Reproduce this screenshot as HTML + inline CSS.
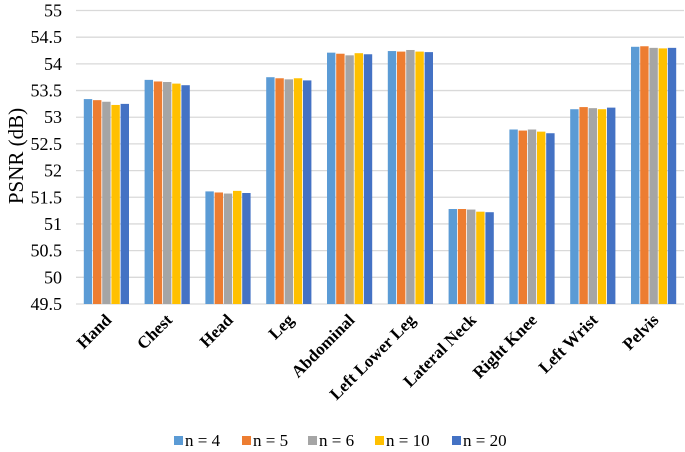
<!DOCTYPE html>
<html><head><meta charset="utf-8"><style>
html,body{margin:0;padding:0;background:#fff;width:685px;height:452px;overflow:hidden}
svg, svg text{font-family:"Liberation Serif","DejaVu Serif","Times New Roman",Times,serif !important;fill:#000}
</style></head><body>
<svg id="chart" width="685" height="452" viewBox="0 0 685 452" xmlns="http://www.w3.org/2000/svg">
<g id="grid"></g>
<g id="yticks"></g>
<g id="bars"></g>
<g id="xlabels"></g>
<text transform="translate(23,156) rotate(-90)" text-anchor="middle" font-size="21">PSNR (dB)</text>
<g id="legend"></g>
</svg>
<script>
const categories = ["Hand","Chest","Head","Leg","Abdominal","Left Lower Leg","Lateral Neck","Right Knee","Left Wrist","Pelvis"];
const seriesNames = ["n = 4","n = 5","n = 6","n = 10","n = 20"];
const s4  = [53.34,53.70,51.61,53.75,54.21,54.24,51.28,52.77,53.15,54.32];
const s5  = [53.32,53.67,51.59,53.73,54.19,54.23,51.28,52.75,53.19,54.33];
const s6  = [53.29,53.66,51.57,53.71,54.16,54.26,51.27,52.77,53.17,54.30];
const s10 = [53.23,53.63,51.62,53.73,54.20,54.23,51.23,52.73,53.15,54.29];
const s20 = [53.25,53.60,51.58,53.69,54.18,54.22,51.22,52.70,53.18,54.30];
const yTicks = [49.5,50,50.5,51,51.5,52,52.5,53,53.5,54,54.5,55];
const colors = ["#5b9bd5","#ed7d31","#a5a5a5","#ffc000","#4472c4"];
const series = [s4,s5,s6,s10,s20];
const NS="http://www.w3.org/2000/svg";
const X0=76,X1=684,Y0=304,Y1=10.5,YMIN=49.5,YMAX=55;
const y=v=>Y0-(v-YMIN)/(YMAX-YMIN)*(Y0-Y1);
const band=(X1-X0)/categories.length;
const xc=i=>X0+band*(i+0.5);
function mk(t,a,p){const e=document.createElementNS(NS,t);for(const k in a)e.setAttribute(k,a[k]);p.appendChild(e);return e;}
const grid=document.getElementById('grid'),yt=document.getElementById('yticks');
yTicks.forEach(v=>{
  const l=mk('line',{x1:X0,x2:X1,y1:y(v),y2:y(v),stroke:'#d9d9d9','stroke-width':1.3},grid);
  
  
  const t=mk('text',{x:62,y:y(v)+6,'text-anchor':'end','font-size':18},yt);
  t.textContent=String(v);
  
  
});
const bars=document.getElementById('bars');
const step=9.2,bw=8.4;
series.forEach((s,si)=>{
  s.forEach((v,i)=>{
    const x=xc(i)-step*2.5+si*step+0.4;
    const r=mk('rect',{x:x,y:y(v),width:bw,height:Y0-y(v),fill:colors[si]},bars);
    
    
  });
});
const xl=document.getElementById('xlabels');
categories.forEach((c,i)=>{
  const t=mk('text',{transform:`translate(${xc(i)+6},${321}) rotate(-45)`,'text-anchor':'end','font-size':17,'font-weight':'bold'},xl);
  t.textContent=c;
  
  
});
const lg=document.getElementById('legend');
const lx=[174,242,308,375,452];
seriesNames.forEach((n,i)=>{
  const g=mk('g',{},lg);
  
  
  mk('rect',{x:lx[i],y:436,width:9,height:9,fill:colors[i]},g);
  const t=mk('text',{x:lx[i]+11,y:446,'font-size':17},g);
  t.textContent=n;
});
</script>
</body></html>
